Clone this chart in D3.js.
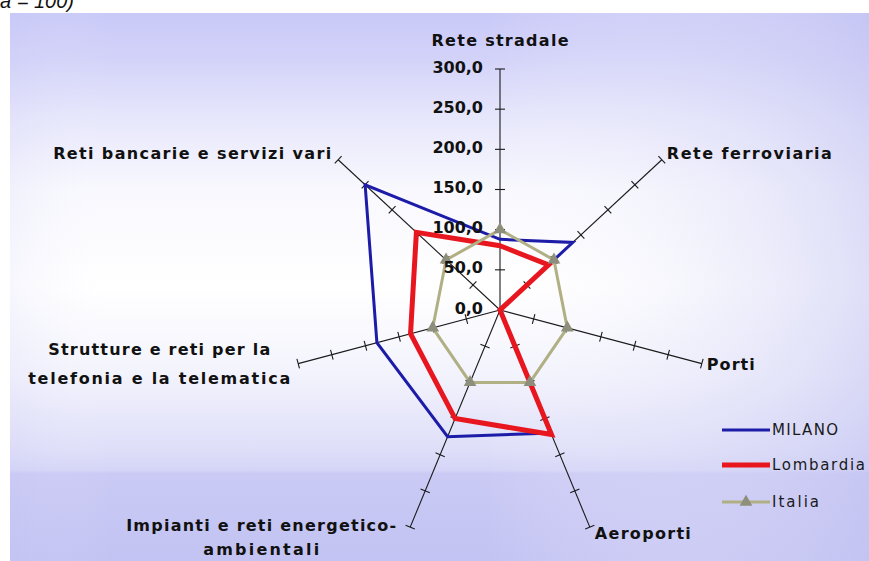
<!DOCTYPE html>
<html>
<head>
<meta charset="utf-8">
<script src="https://cdn.jsdelivr.net/npm/d3@7"></script>
<style>
  html, body { margin: 0; padding: 0; background: #ffffff; }
  svg { display: block; }
</style>
</head>
<body>
<svg id="chart" width="869" height="561"></svg>
<script>
// ---------- DATA ----------
const categories = [
  "Rete stradale",
  "Rete ferroviaria",
  "Porti",
  "Aeroporti",
  "Impianti e reti energetico-\nambientali",
  "Strutture e reti per la\ntelefonia e la telematica",
  "Reti bancarie e servizi vari"
];
const seriesNames = ["MILANO", "Lombardia", "Italia"];
const milano    = [88, 135, 0, 170, 175, 183, 250];
const lombardia = [80, 90, 0, 172, 150, 133, 155];
const italia    = [100, 100, 100, 100, 100, 100, 100];
const tickValues = [0, 50, 100, 150, 200, 250, 300];
const tickLabels = ["0,0", "50,0", "100,0", "150,0", "200,0", "250,0", "300,0"];
const subtitle = "(Italia = 100)";

// ---------- LAYOUT / STYLE ----------
const W = 869, H = 561;
const cx = 500, cy = 310;
const rX = d3.scaleLinear().domain([0, 300]).range([0, 207]);
const rY = d3.scaleLinear().domain([0, 300]).range([0, 241]);
const n = categories.length;
const angle = d3.scalePoint().domain(d3.range(n)).range([0, 2 * Math.PI * (n - 1) / n]);

const colors = ["#1c1ca8", "#e8161e", "#b0b084"];
const widths = [3, 5, 3];
const markerColor = "#8e8e7c";

// label placement relative to axis end: dx, dy (center of text block), anchor, line gap, textLength per line
const labelLayout = [
  { dx: 0,    dy: -29,  anchor: "middle", gap: 0,  lens: [137] },
  { dx: 5,    dy: -6,   anchor: "start",  gap: 0,  lens: [165] },
  { dx: 5,    dy: 1,    anchor: "start",  gap: 0,  lens: [48] },
  { dx: 5,    dy: 6,    anchor: "start",  gap: 0,  lens: [96] },
  { dx: -149, dy: 10.5, anchor: "middle", gap: 24, lens: [270, 116] },
  { dx: -139, dy: 0,    anchor: "middle", gap: 29, lens: [222, 262] },
  { dx: -7,   dy: -6,   anchor: "end",    gap: 0,  lens: [278] }
];

function pt(i, v) {
  const a = angle(i);
  return [cx + rX(v) * Math.sin(a), cy - rY(v) * Math.cos(a)];
}

const svg = d3.select("#chart");
const defs = svg.append("defs");

// background gradients
const g1 = defs.append("linearGradient").attr("id", "bgV").attr("x1", 0).attr("y1", 0).attr("x2", 0).attr("y2", 1);
[[0, "#c9c9f8"], [0.08, "#d2d2f9"], [0.2, "#e8e8fc"], [0.32, "#f8f8fe"], [0.5, "#ffffff"],
 [0.66, "#f3f3fd"], [0.8, "#dedef9"], [0.835, "#d4d4f7"], [0.84, "#cacaf5"], [1, "#c3c3f3"]]
  .forEach(([o, c]) => g1.append("stop").attr("offset", o).attr("stop-color", c));
const g2 = defs.append("linearGradient").attr("id", "bgH").attr("x1", 0).attr("y1", 0).attr("x2", 1).attr("y2", 0);
[[0, "#c8c8f5", 0.15], [0.12, "#ffffff", 0], [0.55, "#ffffff", 0], [1, "#c4c4f2", 0.55]]
  .forEach(([o, c, op]) => g2.append("stop").attr("offset", o).attr("stop-color", c).attr("stop-opacity", op));

svg.append("rect").attr("x", 10).attr("y", 13).attr("width", W - 10).attr("height", H - 13).attr("fill", "url(#bgV)");
svg.append("rect").attr("x", 10).attr("y", 13).attr("width", W - 10).attr("height", H - 13).attr("fill", "url(#bgH)");

// subtitle at top left (partly above the frame, as in the source)
svg.append("text")
  .attr("x", 74).attr("y", 8)
  .attr("text-anchor", "end")
  .attr("font-family", "'Liberation Sans', Arial, sans-serif")
  .attr("font-style", "italic")
  .attr("font-size", 20)
  .attr("fill", "#111")
  .text(subtitle);

// ---------- AXES ----------
const axisG = svg.append("g");
d3.range(n).forEach(i => {
  const [x0, y0] = pt(i, 0);
  const [x1, y1] = pt(i, 300);
  axisG.append("line")
    .attr("x1", x0).attr("y1", y0).attr("x2", x1).attr("y2", y1)
    .attr("stroke", "#1a1a1a").attr("stroke-width", 1.1);
  const len = Math.hypot(x1 - x0, y1 - y0);
  const ux = (x1 - x0) / len, uy = (y1 - y0) / len;
  const px = -uy, py = ux;
  tickValues.slice(1).forEach(t => {
    const [tx, ty] = pt(i, t);
    axisG.append("line")
      .attr("x1", tx - px * 5).attr("y1", ty - py * 5)
      .attr("x2", tx + px * 5).attr("y2", ty + py * 5)
      .attr("stroke", "#1a1a1a").attr("stroke-width", 1.1);
  });
});

// ---------- SERIES ----------
const line = d3.line().x(d => d[0]).y(d => d[1]).curve(d3.curveLinearClosed);
const seriesData = [milano, lombardia, italia];
seriesData.forEach((vals, s) => {
  svg.append("path")
    .attr("d", line(vals.map((v, i) => pt(i, v))))
    .attr("fill", "none")
    .attr("stroke", colors[s])
    .attr("stroke-width", widths[s])
    .attr("stroke-linejoin", "miter");
});
const tri = d3.symbol().type(d3.symbolTriangle).size(70);
italia.forEach((v, i) => {
  const [x, y] = pt(i, v);
  svg.append("path").attr("d", tri()).attr("transform", `translate(${x},${y})`).attr("fill", markerColor);
});

// tick labels on the first axis
tickValues.forEach((t, k) => {
  const [x, y] = pt(0, t);
  svg.append("text")
    .attr("x", x - 17).attr("y", y - 2)
    .attr("text-anchor", "end")
    .attr("dominant-baseline", "central")
    .attr("font-family", "'DejaVu Sans', sans-serif")
    .attr("font-weight", "bold")
    .attr("font-size", 16)
    .attr("fill", "#111")
    .text(tickLabels[k]);
});

// category labels
categories.forEach((c, i) => {
  const [ex, ey] = pt(i, 300);
  const L = labelLayout[i];
  const lines = c.split("\n");
  lines.forEach((ln, j) => {
    const y = ey + L.dy - (lines.length - 1) * L.gap / 2 + j * L.gap;
    svg.append("text")
      .attr("x", ex + L.dx)
      .attr("y", y)
      .attr("text-anchor", L.anchor)
      .attr("dominant-baseline", "central")
      .attr("font-family", "'DejaVu Sans', sans-serif")
      .attr("font-weight", "bold")
      .attr("font-size", 16)
      .attr("textLength", L.lens[j])
      .attr("lengthAdjust", "spacing")
      .attr("fill", "#111")
      .text(ln);
  });
});

// ---------- LEGEND ----------
const legY = [430, 465, 502];
const legLens = [66, 93, 47];
seriesNames.forEach((name, s) => {
  svg.append("line")
    .attr("x1", 722).attr("x2", 770).attr("y1", legY[s]).attr("y2", legY[s])
    .attr("stroke", colors[s]).attr("stroke-width", widths[s]);
  if (s === 2) {
    svg.append("path").attr("d", tri()).attr("transform", `translate(746,${legY[s]})`).attr("fill", markerColor);
  }
  svg.append("text")
    .attr("x", 772).attr("y", legY[s])
    .attr("dominant-baseline", "central")
    .attr("font-family", "'DejaVu Sans', sans-serif")
    .attr("font-size", 15)
    .attr("textLength", legLens[s])
    .attr("lengthAdjust", "spacing")
    .attr("fill", "#1a1a1a")
    .text(name);
});
</script>
</body>
</html>
